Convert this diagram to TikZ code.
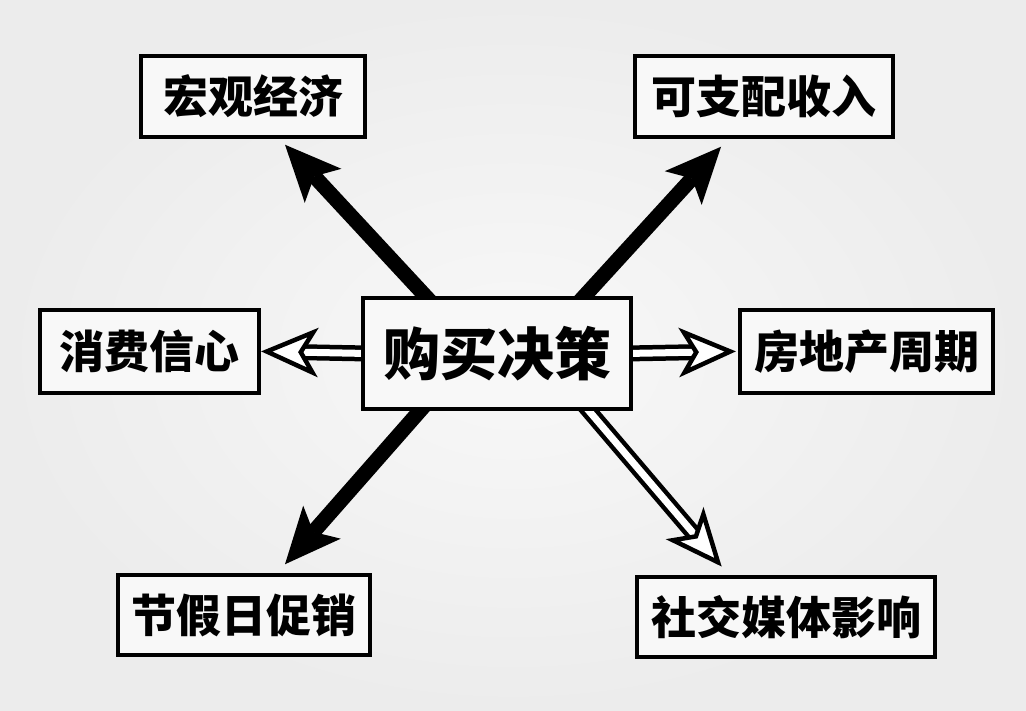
\documentclass[tikz,border=0pt]{standalone}
\usepackage{fontspec}
\newfontfamily\cjk{Noto Sans CJK SC}
\usetikzlibrary{calc,backgrounds}
\definecolor{bgin}{HTML}{F8F8F8}
\definecolor{bgout}{HTML}{ECECEC}
\definecolor{boxfill}{HTML}{F8F8F8}
\tikzset{
  box/.style={draw=black, line width=3.5pt, fill=boxfill, inner sep=0pt,
    font=\cjk\bfseries\fontsize{45}{48}\selectfont, text=black},
  bigbox/.style={box, font=\cjk\bfseries\fontsize{57}{60}\selectfont},
  solidshaft/.style={line width=15pt, draw=black},
  solidhead/.style={fill=black},
  hollowshaft/.style={line width=4.5pt, draw=black, double=white, double distance=7pt},
  hollowhead/.style={fill=white, draw=black, line width=4.5pt, line join=miter},
}
\newcommand\solidarrow[2]{%
  \coordinate (#2m) at ($(#2)!56pt!(#1)$);
  \coordinate (#2n) at ($(#2)!43pt!(#1)$);
  \draw[solidshaft] (#1) -- (#2n);
  \fill[solidhead] (#2) -- ($(#2m)!25pt!90:(#2)$) -- (#2n) -- ($(#2m)!25pt!-90:(#2)$) -- cycle;
}
\newcommand\hollowarrow[2]{%
  \coordinate (#2m) at ($(#2)!46pt!(#1)$);
  \coordinate (#2n) at ($(#2)!34pt!(#1)$);
  \draw[hollowshaft] (#1) -- (#2n);
  \filldraw[hollowhead] (#2) -- ($(#2m)!20pt!90:(#2)$) -- (#2n) -- ($(#2m)!20pt!-90:(#2)$) -- cycle;
}
\begin{document}
\begin{tikzpicture}[x=1pt,y=-1pt]
  \useasboundingbox (0,0) rectangle (1026,711);
  % boxes
  \node[box, minimum width=224pt, minimum height=81pt] (macro) at (253,96.5) {宏观经济};
  \node[box, minimum width=258pt, minimum height=81pt] (income) at (764,96.5) {可支配收入};
  \node[box, minimum width=219pt, minimum height=83pt] (conf) at (149.5,351.5) {消费信心};
  \node[bigbox, minimum width=268pt, minimum height=111pt] (c) at (497,353.5) {购买决策};
  \node[box, minimum width=253pt, minimum height=83pt] (estate) at (866.5,351.5) {房地产周期};
  \node[box, minimum width=252pt, minimum height=80pt] (holiday) at (244,615) {节假日促销};
  \node[box, minimum width=298pt, minimum height=80pt] (social) at (786,617) {社交媒体影响};
  % anchor points of connectors
  \coordinate (tlS) at ($(c.north)+(-64,8)$);
  \coordinate (tlT) at ($(macro.south)+(32,6)$);
  \coordinate (trS) at ($(c.north)+(80,8)$);
  \coordinate (trT) at ($(income.south)+(-43,8)$);
  \coordinate (blS) at ($(c.south)+(-70,-8)$);
  \coordinate (blT) at ($(holiday.north)+(41,-9)$);
  \coordinate (brS) at ($(c.south)+(85,-8)$);
  \coordinate (brT) at ($(social.north)+(-68,-13)$);
  \coordinate (lS) at ($(c.west)+(6,0)$);
  \coordinate (lT) at ($(conf.east)+(6,0)$);
  \coordinate (rS) at ($(c.east)+(-6,0)$);
  \coordinate (rT) at ($(estate.west)+(-8,0)$);
  \begin{scope}[on background layer]
    \shade[inner color=bgin, outer color=bgout] (0,0) rectangle (1026,711);
    \solidarrow{tlS}{tlT}
    \solidarrow{trS}{trT}
    \solidarrow{blS}{blT}
    \hollowarrow{brS}{brT}
    \hollowarrow{lS}{lT}
    \hollowarrow{rS}{rT}
  \end{scope}
\end{tikzpicture}
\end{document}
